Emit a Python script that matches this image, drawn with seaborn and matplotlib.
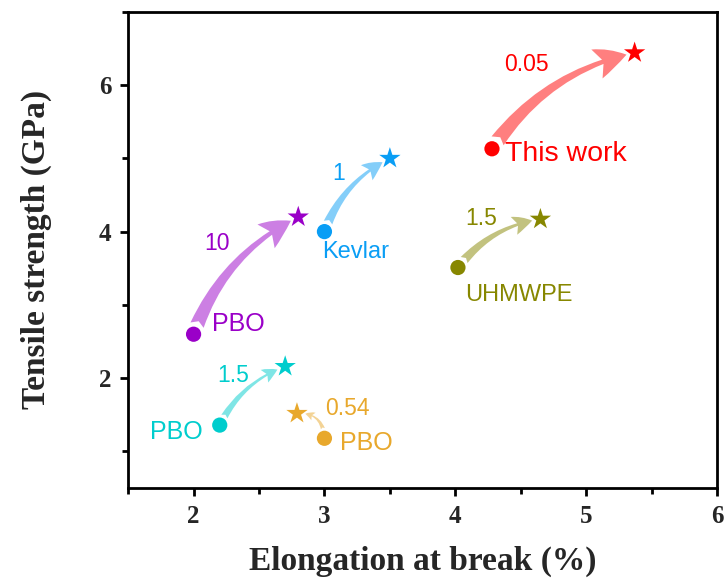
import matplotlib
matplotlib.use("Agg")
import matplotlib.pyplot as plt
from matplotlib.patches import FancyArrowPatch
from matplotlib.ticker import MultipleLocator
import seaborn as sns
import pandas as pd

# Fibre strength / elongation before (circle) and after (star) treatment
labels = ["This work", "Kevlar", "PBO", "UHMWPE", "PBO", "PBO"]
elong_before = [4.28, 3.00, 2.00, 4.02, 2.20, 3.00]
strength_before = [5.13, 4.00, 2.60, 3.51, 1.36, 1.18]
elong_after = [5.37, 3.50, 2.80, 4.65, 2.70, 2.79]
strength_after = [6.44, 5.00, 4.20, 4.17, 2.16, 1.52]
ratio_text = ["0.05", "1", "10", "1.5", "1.5", "0.54"]

colors = ["#ff0000", "#0a9ef5", "#9a00c8", "#878700", "#00cdcd", "#e8a82c"]

df = pd.DataFrame({
    "key": [f"{i}" for i in range(len(labels))],
    "label": labels,
    "x0": elong_before, "y0": strength_before,
    "x1": elong_after, "y1": strength_after,
})

sns.set_theme(style="ticks")
plt.rcParams["font.family"] = ["Liberation Serif", "DejaVu Serif"]

fig = plt.figure(figsize=(7.28, 5.86), dpi=100)
ax = fig.add_axes([0.176, 0.167, 0.809, 0.813])

sns.scatterplot(data=df, x="x0", y="y0", hue="key", palette=colors, marker="o",
                s=120, linewidth=0, legend=False, ax=ax, zorder=4)
sns.scatterplot(data=df, x="x1", y="y1", hue="key", palette=colors, marker="*",
                s=260, linewidth=0, legend=False, ax=ax, zorder=4)

# curved arrows: (rad, mutation scale)
arrow_style = [(-0.2, 36), (-0.2, 22), (-0.2, 34), (-0.2, 22), (-0.2, 17), (0.5, 10)]
for i, (rad, ms) in enumerate(arrow_style):
    arr = FancyArrowPatch(
        (df.x0[i], df.y0[i]), (df.x1[i], df.y1[i]),
        arrowstyle="fancy,head_length=0.62,head_width=0.62,tail_width=0.3",
        connectionstyle=f"arc3,rad={rad}", mutation_scale=ms,
        shrinkA=7, shrinkB=6, color=colors[i], alpha=0.5, lw=0, zorder=3)
    ax.add_patch(arr)

sans = ["Liberation Sans", "DejaVu Sans"]
# (dx, dy, ha) offsets in points from the circle marker
name_pos = [(9.5, -4, "left"), (-1.5, -15, "left"), (13.5, 7, "left"),
            (5, -19.5, "left"), (-12, -5, "right"), (11.5, -3.6, "left")]
name_size = [20.5, 17, 18, 17, 18, 18]
ratio_pos = [(25, 61), (10, 42), (17, 65), (16.5, 35), (10, 36), (16.5, 21.5)]
for i in range(len(labels)):
    dx, dy, ha = name_pos[i]
    ax.annotate(labels[i], (df.x0[i], df.y0[i]), xytext=(dx, dy),
                textcoords="offset points", ha=ha, va="center",
                color=colors[i], fontsize=name_size[i], family=sans)
    rx, ry = ratio_pos[i]
    ax.annotate(ratio_text[i], (df.x0[i], df.y0[i]), xytext=(rx, ry),
                textcoords="offset points", ha="center", va="center",
                color=colors[i], fontsize=16.5, family=sans)

ax.set_xlim(1.5, 6)
ax.set_ylim(0.5, 7)
ax.xaxis.set_major_locator(MultipleLocator(1))
ax.xaxis.set_minor_locator(MultipleLocator(0.5))
ax.yaxis.set_major_locator(MultipleLocator(2))
ax.yaxis.set_minor_locator(MultipleLocator(1))
ax.tick_params(which="both", direction="out", width=2, color="black",
               top=False, right=False, labelsize=18)
ax.tick_params(which="major", length=6, pad=6)
ax.tick_params(which="minor", length=4)
for lbl in ax.get_xticklabels() + ax.get_yticklabels():
    lbl.set_fontweight("bold")
for sp in ax.spines.values():
    sp.set_linewidth(2)
    sp.set_color("black")

ax.set_xlabel("Elongation at break (%)", fontsize=24, fontweight="bold", labelpad=13)
ax.set_ylabel("Tensile strength (GPa)", fontsize=24, fontweight="bold", labelpad=34)

fig.savefig("out.png", dpi=100)
